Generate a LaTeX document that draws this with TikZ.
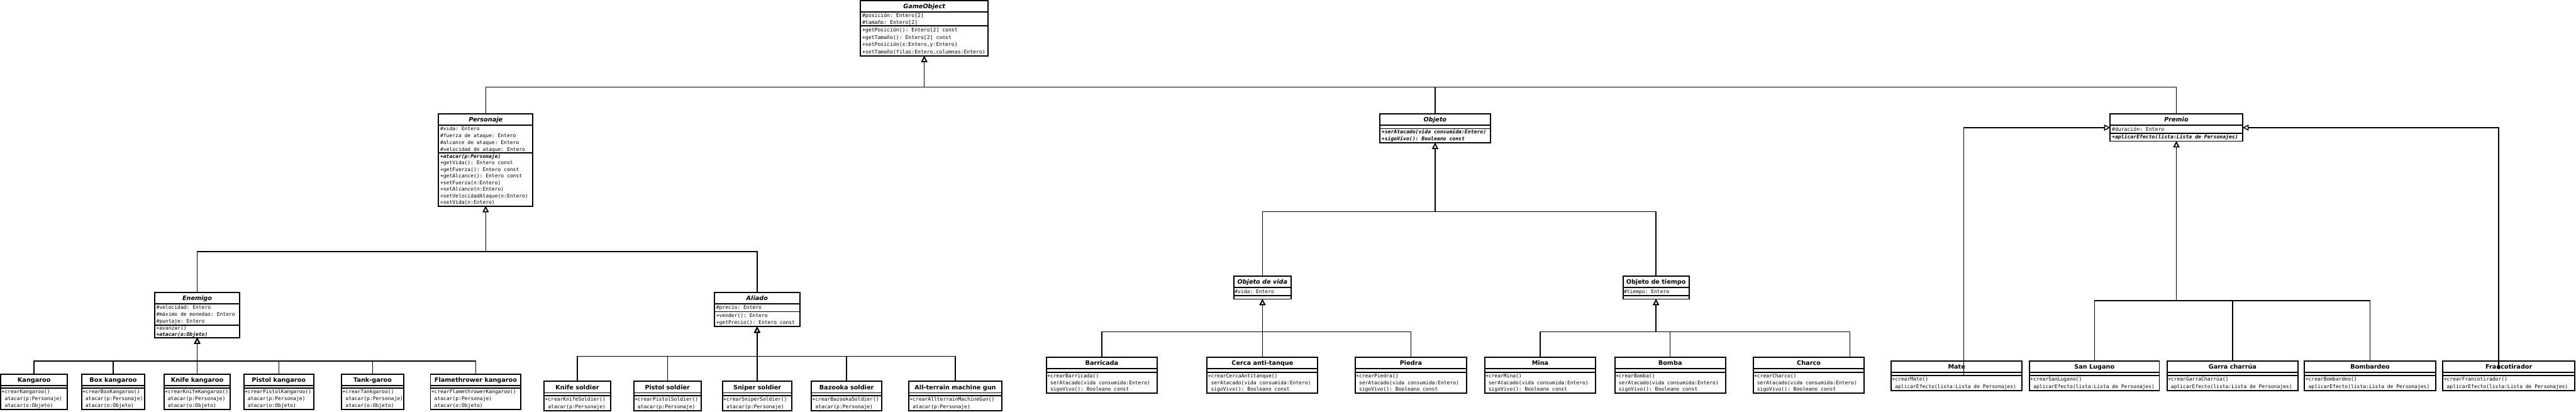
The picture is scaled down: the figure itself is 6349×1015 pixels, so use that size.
\documentclass[tikz,border=0pt]{standalone}
\usepackage{fontspec}
\setmainfont{DejaVu Sans}
\setmonofont{DejaVu Sans Mono}
\usetikzlibrary{arrows.meta}
\newcommand\St{\strut}
\def\lp{17}
% name, x1, y1, x2, y2, s1, s2, title, title style
\newcommand\umlbox[9]{%
  \node[clsbox, minimum width={(#4)-(#2)}, minimum height={(#5)-(#3)}] (#1) at ({((#2)+(#4))/2},{((#3)+(#5))/2}) {};
  \draw[sepl] (#2,#6) -- (#4,#6);
  \draw[sepl] (#2,#7) -- (#4,#7);
  \node[#9, anchor=base] (#1-t) at ({((#2)+(#4))/2},{(#6)-8.5}) {#8};
}
% name, x, y, pitch, size, lines
\newcommand\umltext[6]{%
  \node[txt, font=\ttfamily\fontsize{#5}{#4}\selectfont] (#1) at (#2,#3) {#6};
}
% leaf class with empty attribute section
\newcommand\leaf[9]{%
  \umlbox{#1}{#2}{#3}{#4}{#5}{#6}{#7}{#8}{conc}%
  \umltext{#1-m}{#2+2}{#7+1}{\lp}{12.4}{#9}%
}
\begin{document}
\begin{tikzpicture}[x=1pt, y=-1pt,
  clsbox/.style={draw, line width=3pt, fill=white, inner sep=0pt, outer sep=0pt},
  sepl/.style={line width=3pt},
  abs/.style={inner sep=0pt, font=\fontsize{15}{18}\selectfont\bfseries\itshape},
  conc/.style={inner sep=0pt, font=\fontsize{15}{18}\selectfont\bfseries},
  txt/.style={anchor=north west, inner sep=0pt, align=left},
  inh/.style={line width=2.2pt, -{Triangle[open, length=15pt, width=15pt]}}]
\fill[white] (0,0) rectangle (6349,1015);
\useasboundingbox (0,0) rectangle (6349,1015);

% ---------- level 0
\umlbox{go}{2121}{2}{2435}{138}{29}{64}{GameObject}{abs}
\umltext{go-a}{2125}{30}{17.5}{12.6}{\St\#posición: Entero[2]\\\St\#tamaño: Entero[2]}
\umltext{go-m}{2125}{65}{18.3}{12.6}{\St+getPosición(): Entero[2] const\\\St+getTamaño(): Entero[2] const\\\St+setPosición(x:Entero,y:Entero)\\\St+setTamaño(filas:Entero,columnas:Entero)}

% ---------- level 1
\umlbox{pers}{1081}{281}{1313}{508}{308}{377}{Personaje}{abs}
\umltext{pers-a}{1085}{309}{17.2}{12.4}{\St\#vida: Entero\\\St\#fuerza de ataque: Entero\\\St\#alcance de ataque: Entero\\\St\#velocidad de ataque: Entero}
\umltext{pers-m}{1085}{378}{16.3}{12.4}{\St{\bfseries\itshape +atacar(p:Personaje)}\\\St+getVida(): Entero const\\\St+getFuerza(): Entero const\\\St+getAlcance(): Entero const\\\St+setFuerza(n:Entero)\\\St+setAlcance(n:Entero)\\\St+setVelocidadAtaque(n:Entero)\\\St+setVida(n:Entero)}

\umlbox{obj}{3401}{281}{3673}{352}{308}{317}{Objeto}{abs}
\umltext{obj-m}{3405}{318}{17}{12.6}{\St{\bfseries\itshape +serAtacado(vida consumida:Entero)}\\\St{\bfseries\itshape +sigoVivo(): Booleano const}}

\umlbox{prem}{5201}{281}{5527}{348}{308}{328}{Premio}{abs}
\umltext{prem-a}{5205}{309}{19}{12.6}{\St\#duración: Entero}
\umltext{prem-m}{5205}{329}{19}{12.6}{\St{\bfseries\itshape +aplicarEfecto(lista:Lista de Personajes)}}

% ---------- level 2
\umlbox{ene}{381}{721}{591}{832}{748}{801}{Enemigo}{abs}
\umltext{ene-a}{385}{749}{17.5}{12.4}{\St\#velocidad: Entero\\\St\#máximo de monedas: Entero\\\St\#puntaje: Entero}
\umltext{ene-m}{385}{802}{15.2}{12.4}{\St+avanzar()\\\St{\bfseries\itshape +atacar(o:Objeto)}}

\umlbox{ali}{1761}{721}{1971}{805}{748}{768}{Aliado}{abs}
\umltext{ali-a}{1765}{749}{19}{12.4}{\St\#precio: Entero}
\umltext{ali-m}{1765}{769}{17.8}{12.4}{\St+vender(): Entero\\\St+getPrecio(): Entero const}

\umlbox{ovida}{3041}{681}{3182}{737}{708}{729}{Objeto de vida}{abs}
\umltext{ovida-a}{3043}{709}{20}{12.4}{\St\#vida: Entero}
\umlbox{otiempo}{4000}{681}{4163}{737}{708}{729}{Objeto de tiempo}{conc}
\umltext{otiempo-a}{4002}{709}{20}{12.4}{\St\#tiempo: Entero}

% ---------- enemy leaves
\def\lp{17}
\leaf{kan}{2}{922}{166}{1009}{950}{957}{Kangaroo}{\St+crearKangaroo()\\\St\ atacar(p:Personaje)\\\St\ atacar(o:Objeto)}
\leaf{boxk}{201}{922}{357}{1009}{950}{957}{Box kangaroo}{\St+crearBoxKangaroo()\\\St\ atacar(p:Personaje)\\\St\ atacar(o:Objeto)}
\leaf{knk}{404}{922}{568}{1009}{950}{957}{Knife kangaroo}{\St+crearKnifeKangaroo()\\\St\ atacar(p:Personaje)\\\St\ atacar(o:Objeto)}
\leaf{pkn}{601}{922}{773}{1009}{950}{957}{Pistol kangaroo}{\St+crearPistolKangaroo()\\\St\ atacar(p:Personaje)\\\St\ atacar(o:Objeto)}
\leaf{tank}{842}{922}{995}{1009}{950}{957}{Tank-garoo}{\St+crearTankgaroo()\\\St\ atacar(p:Personaje)\\\St\ atacar(o:Objeto)}
\leaf{flame}{1061}{922}{1284}{1009}{950}{957}{Flamethrower kangaroo}{\St+crearFlamethrowerKangaroo()\\\St\ atacar(p:Personaje)\\\St\ atacar(o:Objeto)}

% ---------- ally leaves
\def\lp{18}
\leaf{ksol}{1341}{940}{1505}{1012}{968}{975}{Knife soldier}{\St+crearKnifeSoldier()\\\St\ atacar(p:Personaje)}
\leaf{psol}{1562}{940}{1728}{1012}{968}{975}{Pistol soldier}{\St+crearPistolSoldier()\\\St\ atacar(p:Personaje)}
\leaf{ssol}{1781}{940}{1952}{1012}{968}{975}{Sniper soldier}{\St+crearSniperSoldier()\\\St\ atacar(p:Personaje)}
\leaf{bsol}{2000}{940}{2173}{1012}{968}{975}{Bazooka soldier}{\St+crearBazookaSoldier()\\\St\ atacar(p:Personaje)}
\leaf{atm}{2240}{940}{2469}{1012}{968}{975}{All-terrain machine gun}{\St+crearAllterrainMachineGun()\\\St\ atacar(p:Personaje)}

% ---------- object leaves
\def\lp{17}
\leaf{barr}{2579}{881}{2852}{969}{908}{917}{Barricada}{\St+crearBarricada()\\\St\ serAtacado(vida consumida:Entero)\\\St\ sigoVivo(): Booleano const}
\leaf{cerca}{2975}{881}{3248}{969}{908}{917}{Cerca anti-tanque}{\St+crearCercaAntitanque()\\\St\ serAtacado(vida consumida:Entero)\\\St\ sigoVivo(): Booleano const}
\leaf{piedra}{3340}{881}{3615}{969}{908}{917}{Piedra}{\St+crearPiedra()\\\St\ serAtacado(vida consumida:Entero)\\\St\ sigoVivo(): Booleano const}
\leaf{mina}{3659}{881}{3933}{969}{908}{917}{Mina}{\St+crearMina()\\\St\ serAtacado(vida consumida:Entero)\\\St\ sigoVivo(): Booleano const}
\leaf{bomba}{3980}{881}{4253}{969}{908}{917}{Bomba}{\St+crearBomba()\\\St\ serAtacado(vida consumida:Entero)\\\St\ sigoVivo(): Booleano const}
\leaf{charco}{4321}{881}{4595}{969}{908}{917}{Charco}{\St+crearCharco()\\\St\ serAtacado(vida consumida:Entero)\\\St\ sigoVivo(): Booleano const}

% ---------- prize leaves
\def\lp{18}
\leaf{mate}{4661}{890}{4984}{962}{918}{925}{Mate}{\St+crearMate()\\\St\ aplicarEfecto(lista:Lista de Personajes)}
\leaf{sanl}{5002}{890}{5322}{962}{918}{925}{San Lugano}{\St+crearSanLugano()\\\St\ aplicarEfecto(lista:Lista de Personajes)}
\leaf{garra}{5341}{890}{5664}{962}{918}{925}{Garra charrúa}{\St+crearGarraCharrúa()\\\St\ aplicarEfecto(lista:Lista de Personajes)}
\leaf{bomb}{5680}{890}{6003}{962}{918}{925}{Bombardeo}{\St+crearBombardeo()\\\St\ aplicarEfecto(lista:Lista de Personajes)}
\leaf{franco}{6021}{890}{6346}{962}{918}{925}{Francotirador}{\St+crearFrancotirador()\\\St\ aplicarEfecto(lista:Lista de Personajes)}

% ---------- connectors
\coordinate (bus0) at (0,215);
\coordinate (bus1) at (0,620);
\coordinate (bus2) at (0,890);
\coordinate (bus3) at (0,878);
\coordinate (bus4) at (0,522);
\coordinate (bus5) at (0,818);
\coordinate (bus6) at (0,741);
\coordinate (charcoup) at (4559,881);
\coordinate (mateup) at (4840,926);
\coordinate (francoup) at (6158,910);

\foreach \c in {pers,obj,prem}
  \draw[inh] (\c.north) |- (go.south |- bus0) -- (go.south);
\foreach \c in {ene,ali}
  \draw[inh] (\c.north) |- (pers.south |- bus1) -- (pers.south);
\foreach \c in {kan,boxk,knk,pkn,tank,flame}
  \draw[inh] (\c.north) |- (ene.south |- bus2) -- (ene.south);
\foreach \c in {ksol,psol,ssol,bsol,atm}
  \draw[inh] (\c.north) |- (ali.south |- bus3) -- (ali.south);
\foreach \c in {ovida,otiempo}
  \draw[inh] (\c.north) |- (obj.south |- bus4) -- (obj.south);
\foreach \c in {barr,cerca,piedra}
  \draw[inh] (\c.north) |- (ovida.south |- bus5) -- (ovida.south);
\foreach \c in {mina,bomba}
  \draw[inh] (\c.north) |- (otiempo.south |- bus5) -- (otiempo.south);
\draw[inh] (charcoup) |- (otiempo.south |- bus5) -- (otiempo.south);
\foreach \c in {sanl,garra,bomb}
  \draw[inh] (\c.north) |- (prem.south |- bus6) -- (prem.south);
\draw[inh] (mateup) |- (prem.west);
\draw[inh] (francoup) |- (prem.east);
\end{tikzpicture}
\end{document}
